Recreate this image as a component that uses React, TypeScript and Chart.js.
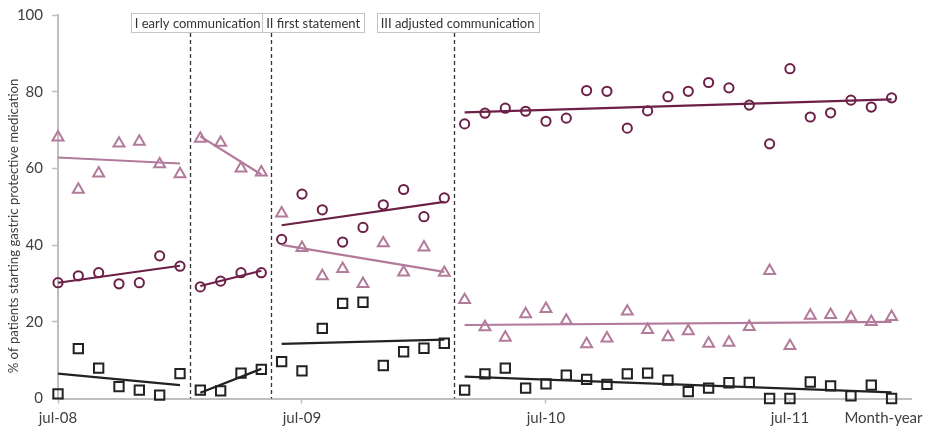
import { useEffect, useRef } from 'react';
import { Chart, registerables } from 'chart.js';

Chart.register(...registerables);

const FONT = 'Lato, "Open Sans", sans-serif';

// Month index 0 = jul-08 ... 41 = dec-11
const monthCount = 42;
const tickMonths = [0, 12, 24, 36];
const tickLabels = ['jul-08', 'jul-09', 'jul-10', 'jul-11'];
const axisEndLabel = 'Month-year';
const axisEndPos = 40.6;
const yTitle = '% of patients starting gastric protective medication';

// First month of each phase (pre, I, II, III)
const phaseStarts = [0, 7, 11, 20];
const phaseBreaks = [6.5, 10.5, 19.5];
const phaseNames = ['I early communication', 'II first statement', 'III adjusted communication'];
const phaseLabelAt = [6.87, 12.55, 19.65];

const circleValues = [
  30.2, 32.0, 32.8, 29.9, 30.2, 37.2, 34.5,
  29.1, 30.6, 32.8, 32.8,
  41.5, 53.3, 49.2, 40.8, 44.6, 50.5, 54.5, 47.4, 52.3,
  71.6, 74.4, 75.7, 74.9, 72.3, 73.1, 80.3, 80.1, 70.5, 75.0, 78.7,
  80.1, 82.4, 81.0, 76.5, 66.4, 86.0, 73.4, 74.5, 77.8, 76.0, 78.4,
];

const triangleValues = [
  68.1, 54.5, 58.7, 66.5, 67.0, 61.1, 58.5,
  67.8, 66.7, 60.0, 59.0,
  48.3, 39.3, 31.9, 33.8, 29.9, 40.5, 32.9, 39.4, 32.8,
  25.7, 18.6, 15.9, 22.0, 23.4, 20.3, 14.2, 15.7, 22.7, 17.9, 16.0,
  17.6, 14.3, 14.6, 18.7, 33.3, 13.7, 21.6, 21.8, 21.1, 20.0, 21.3,
];

const squareValues = [
  1.2, 13.0, 7.9, 3.1, 2.2, 0.9, 6.5,
  2.2, 2.0, 6.6, 7.6,
  9.6, 7.2, 18.3, 24.8, 25.1, 8.6, 12.2, 13.1, 14.4,
  2.2, 6.4, 7.9, 2.7, 3.8, 6.1, 5.0, 3.7, 6.4, 6.6, 4.8,
  1.8, 2.7, 4.1, 4.2, 0.0, 0.0, 4.3, 3.3, 0.7, 3.5, 0.0,
];

const MAROON = '#6c1f47';
const MAUVE = '#b27a9b';
const BLACK = '#222222';
const AXIS_GREY = '#bfbfbf';
const TEXT = '#404040';

// Least-squares line over one phase, returned as its two end points
function phaseTrend(values: number[], from: number, to: number) {
  const xs: number[] = [];
  const ys: number[] = [];
  for (let i = from; i <= to; i++) {
    xs.push(i);
    ys.push(values[i]);
  }
  const n = xs.length;
  const mx = xs.reduce((a, b) => a + b, 0) / n;
  const my = ys.reduce((a, b) => a + b, 0) / n;
  let sxy = 0;
  let sxx = 0;
  for (let k = 0; k < n; k++) {
    sxy += (xs[k] - mx) * (ys[k] - my);
    sxx += (xs[k] - mx) * (xs[k] - mx);
  }
  const slope = sxx === 0 ? 0 : sxy / sxx;
  return [
    { x: from, y: my + slope * (from - mx) },
    { x: to, y: my + slope * (to - mx) },
  ];
}

function markerSet(values: number[], style: string, radius: number, color: string) {
  return {
    type: 'scatter' as const,
    data: values.map((v, i) => ({ x: i, y: v })),
    pointStyle: style,
    pointRadius: radius,
    pointBorderWidth: 2,
    pointBorderColor: color,
    pointBackgroundColor: 'rgba(255,255,255,0)',
    showLine: false,
    clip: false as const,
    order: 2,
  };
}

function trendSets(values: number[], color: string) {
  return phaseStarts.map((start, p) => {
    const end = p + 1 < phaseStarts.length ? phaseStarts[p + 1] - 1 : monthCount - 1;
    return {
      type: 'line' as const,
      data: phaseTrend(values, start, end),
      borderColor: color,
      borderWidth: 2.2,
      pointRadius: 0,
      fill: false,
      clip: false as const,
      order: 1,
    };
  });
}

// Phase separators with their boxed captions, plus the vertical axis caption
const phasePlugin = {
  id: 'phaseMarkers',
  afterDatasetsDraw(chart: any) {
    const { ctx, chartArea, scales } = chart;
    const x = scales.x;
    ctx.save();
    ctx.strokeStyle = '#333333';
    ctx.lineWidth = 1.3;
    ctx.setLineDash([4, 3]);
    phaseBreaks.forEach((b) => {
      const px = Math.round(x.getPixelForValue(b)) + 0.5;
      ctx.beginPath();
      ctx.moveTo(px, 33);
      ctx.lineTo(px, chartArea.bottom);
      ctx.stroke();
    });
    ctx.setLineDash([]);
    ctx.font = `13px ${FONT}`;
    ctx.textBaseline = 'middle';
    ctx.textAlign = 'center';
    phaseNames.forEach((name, i) => {
      const cx = x.getPixelForValue(phaseLabelAt[i]);
      const w = ctx.measureText(name).width + 8;
      const left = Math.round(cx - w / 2) + 0.5;
      ctx.fillStyle = '#ffffff';
      ctx.fillRect(left, 13.5, Math.round(w), 19);
      ctx.strokeStyle = '#c4c4c4';
      ctx.lineWidth = 1;
      ctx.strokeRect(left, 13.5, Math.round(w), 19);
      ctx.fillStyle = '#333333';
      ctx.fillText(name, cx, 23.5);
    });

    ctx.translate(14, 226);
    ctx.rotate(-Math.PI / 2);
    ctx.font = `13.2px ${FONT}`;
    ctx.fillStyle = TEXT;
    ctx.fillText(yTitle, 0, 0);
    ctx.restore();
  },
};

export default function App() {
  const canvasRef = useRef<HTMLCanvasElement>(null);

  useEffect(() => {
    const canvas = canvasRef.current;
    if (!canvas) return;

    const chart = new Chart(canvas, {
      type: 'scatter',
      data: {
        datasets: [
          ...trendSets(triangleValues, MAUVE),
          ...trendSets(circleValues, MAROON),
          ...trendSets(squareValues, BLACK),
          markerSet(triangleValues, 'triangle', 6.3, MAUVE),
          markerSet(circleValues, 'circle', 4.6, MAROON),
          markerSet(squareValues, 'rect', 6.6, BLACK),
        ] as any,
      },
      options: {
        responsive: false,
        animation: false,
        layout: { padding: { top: 15, right: 14, left: 0, bottom: 0 } },
        plugins: {
          legend: { display: false },
          tooltip: { enabled: false },
        },
        scales: {
          x: {
            type: 'linear',
            min: 0,
            max: monthCount,
            afterBuildTicks: (scale: any) => {
              scale.ticks = [...tickMonths, axisEndPos].map((v) => ({ value: v }));
            },
            afterFit: (scale: any) => {
              scale.height = 34.5;
            },
            ticks: {
              autoSkip: false,
              maxRotation: 0,
              padding: 6,
              color: TEXT,
              font: { family: FONT, size: 15 },
              callback: (value: any) => {
                const idx = tickMonths.indexOf(Number(value));
                return idx >= 0 ? tickLabels[idx] : axisEndLabel;
              },
            },
            grid: {
              drawOnChartArea: false,
              tickLength: 5,
              tickWidth: 1.5,
              tickColor: (ctx: any) =>
                ctx.tick && ctx.tick.value === axisEndPos ? 'rgba(0,0,0,0)' : AXIS_GREY,
            },
            border: { color: AXIS_GREY, width: 2 },
          },
          y: {
            min: 0,
            max: 100,
            afterFit: (scale: any) => {
              scale.width = 58;
              scale.paddingTop = 0;
              scale.paddingBottom = 0;
            },
            ticks: {
              stepSize: 20,
              padding: 9,
              color: TEXT,
              font: { family: FONT, size: 15 },
            },
            grid: {
              drawOnChartArea: false,
              tickLength: 6,
              tickWidth: 1.5,
              tickColor: AXIS_GREY,
            },
            border: { color: AXIS_GREY, width: 2 },
          },
        },
      },
      plugins: [phasePlugin],
    });

    return () => chart.destroy();
  }, []);

  return (
    <div style={{ position: 'fixed', left: 0, top: 0, width: 929, height: 433, background: '#ffffff' }}>
      <canvas ref={canvasRef} width={929} height={433} />
    </div>
  );
}
